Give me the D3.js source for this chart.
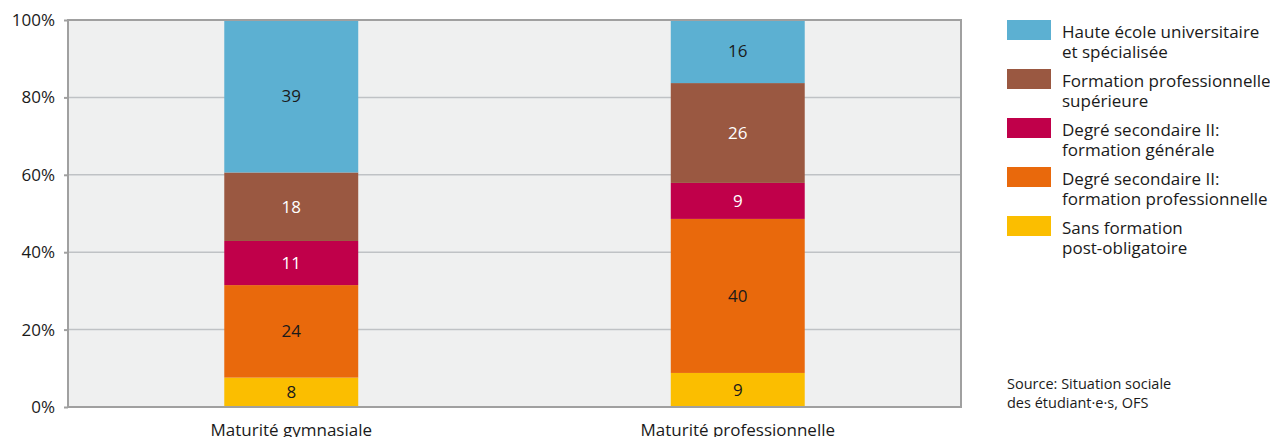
<!DOCTYPE html>
<html>
<head>
<meta charset="utf-8">
<script src="https://cdn.jsdelivr.net/npm/d3@7"></script>
<style>
  body { margin: 0; background: #fff; }
  svg { display: block; font-family: "Open Sans", "DejaVu Sans", sans-serif; }
</style>
</head>
<body>
<div class="chart"></div>
<script>
// categories and series (shares in %)
var categories = ["Maturité gymnasiale", "Maturité professionnelle"];
var seriesNames = [
  "Sans formation post-obligatoire",
  "Degré secondaire II: formation professionnelle",
  "Degré secondaire II: formation générale",
  "Formation professionnelle supérieure",
  "Haute école universitaire et spécialisée"
];
var sansFormation = [7.6, 8.8];
var secProf = [23.9, 39.8];
var secGen = [11.4, 9.3];
var profSup = [17.7, 25.8];
var haute = [39.4, 16.3];
var yTicks = [0, 20, 40, 60, 80, 100];

// legend text split on two lines, top to bottom
var legendLines = [
  ["Haute école universitaire", "et spécialisée"],
  ["Formation professionnelle", "supérieure"],
  ["Degré secondaire II:", "formation générale"],
  ["Degré secondaire II:", "formation professionnelle"],
  ["Sans formation", "post-obligatoire"]
];
var sourceLines = ["Source: Situation sociale", "des étudiant·e·s, OFS"];

var colors = ["#fbbe00", "#e9690c", "#c0004a", "#9a5841", "#5cb0d2"];
var labelColors = ["#1a1a1a", "#1a1a1a", "#ffffff", "#ffffff", "#1a1a1a"];

var W = 1270, H = 437;
var margin = {top: 20, left: 68, right: 309, bottom: 30};
var width = W - margin.left - margin.right,
    height = H - margin.top - margin.bottom;
var fs = 17;

var svg = d3.select(".chart").append("svg")
    .attr("width", W)
    .attr("height", H);

var g = svg.append("g")
    .attr("transform", "translate(" + margin.left + "," + margin.top + ")");

var x = d3.scaleBand().domain(categories).range([0, width])
    .paddingInner(0.7).paddingOuter(0.35);
var y = d3.scaleLinear().domain([0, 100]).range([height, 0]);

// background
g.append("rect")
    .attr("width", width)
    .attr("height", height)
    .attr("fill", "#eff0f0");

// gridlines
g.selectAll(".grid").data(yTicks.slice(1, -1)).enter().append("line")
    .attr("x1", 0).attr("x2", width)
    .attr("y1", function(d) { return y(d); })
    .attr("y2", function(d) { return y(d); })
    .attr("stroke", "#bfc2c5")
    .attr("stroke-width", 1.5);

// stack data
var rows = categories.map(function(c, i) {
  return {cat: c, s0: sansFormation[i], s1: secProf[i], s2: secGen[i], s3: profSup[i], s4: haute[i]};
});
var stack = d3.stack().keys(["s0", "s1", "s2", "s3", "s4"])(rows);

var layers = g.selectAll(".layer").data(stack).enter().append("g")
    .attr("class", "layer")
    .attr("fill", function(d, i) { return colors[i]; });

layers.selectAll("rect").data(function(d) { return d; }).enter().append("rect")
    .attr("x", function(d) { return x(d.data.cat); })
    .attr("width", x.bandwidth())
    .attr("y", function(d) { return y(d[1]); })
    .attr("height", function(d) { return y(d[0]) - y(d[1]); });

// value labels
stack.forEach(function(layer, li) {
  g.selectAll(".lbl" + li).data(layer).enter().append("text")
      .attr("x", function(d) { return x(d.data.cat) + x.bandwidth() / 2; })
      .attr("y", function(d) { return (y(d[0]) + y(d[1])) / 2; })
      .attr("dy", "0.35em")
      .attr("text-anchor", "middle")
      .attr("font-size", fs)
      .attr("fill", labelColors[li])
      .text(function(d) { return Math.round(d[1] - d[0]); });
});

// frame
g.append("rect")
    .attr("width", width)
    .attr("height", height)
    .attr("fill", "none")
    .attr("stroke", "#a0a0a0")
    .attr("stroke-width", 2);

// y axis
var yAxis = g.append("g")
    .call(d3.axisLeft(y).tickValues(yTicks).tickSize(4).tickPadding(9)
      .tickFormat(function(d) { return d + "%"; }));
yAxis.select(".domain").remove();
yAxis.selectAll(".tick line").attr("stroke", "#a0a0a0").attr("stroke-width", 2);
yAxis.selectAll(".tick text")
    .attr("font-family", "'Open Sans', 'DejaVu Sans', sans-serif")
    .attr("font-size", fs).attr("fill", "#1a1a1a");

// x axis labels
var xAxis = g.append("g")
    .attr("transform", "translate(0," + height + ")")
    .call(d3.axisBottom(x).tickSize(0).tickPadding(17));
xAxis.select(".domain").remove();
xAxis.selectAll(".tick text")
    .attr("font-family", "'Open Sans', 'DejaVu Sans', sans-serif")
    .attr("font-size", fs).attr("fill", "#1a1a1a");

// legend
var legend = svg.append("g").attr("transform", "translate(1007,20)");
var legendColors = colors.slice().reverse();
legendLines.forEach(function(lines, i) {
  var lg = legend.append("g").attr("transform", "translate(0," + (i * 49) + ")");
  lg.append("rect").attr("width", 44).attr("height", 20).attr("fill", legendColors[i]);
  lg.selectAll("text").data(lines).enter().append("text")
      .attr("x", 55)
      .attr("y", function(d, j) { return 17.5 + j * 20; })
      .attr("font-size", fs)
      .attr("fill", "#1a1a1a")
      .text(function(d) { return d; });
});

// source
svg.append("g").attr("transform", "translate(1007,389)")
  .selectAll("text").data(sourceLines).enter().append("text")
    .attr("y", function(d, i) { return i * 19; })
    .attr("font-size", 14.5)
    .attr("fill", "#1a1a1a")
    .text(function(d) { return d; });
</script>
</body>
</html>
